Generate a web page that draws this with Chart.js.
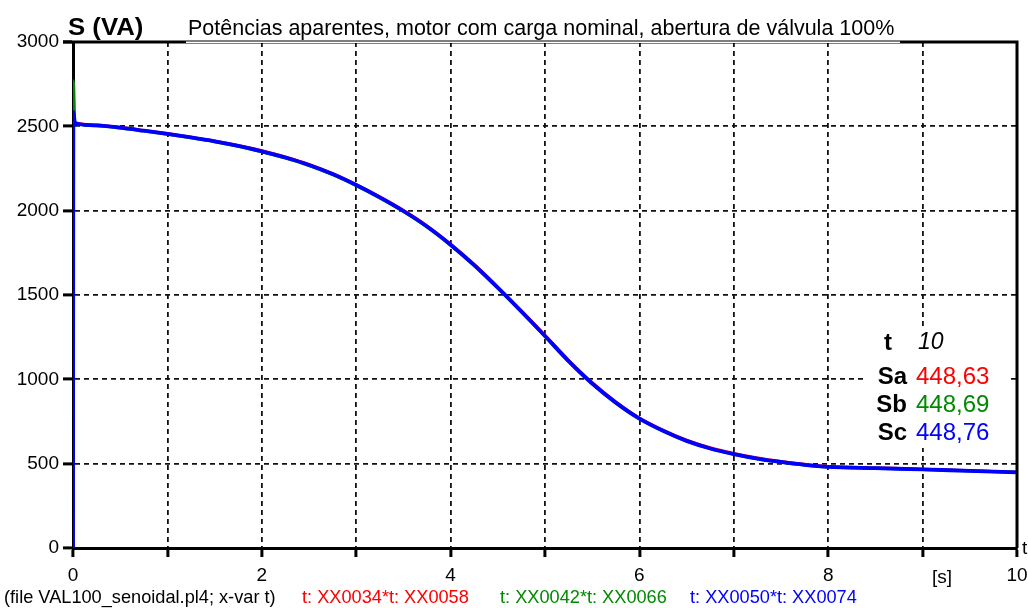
<!DOCTYPE html>
<html><head><meta charset="utf-8">
<script src="https://cdn.jsdelivr.net/npm/chart.js@4.4.1/dist/chart.umd.min.js"></script>
<style>html,body{margin:0;padding:0;background:#fff;overflow:hidden}#wrap{width:1028px;height:608px}</style>
</head><body><div id="wrap"><canvas id="c" width="1028" height="608"></canvas></div>
<script>
// ---- data ----
const timeS = [0, 0.004, 0.02, 0.25, 0.5, 0.75, 1, 1.25, 1.5, 1.75, 2, 2.25, 2.5, 2.75, 3, 3.25, 3.5, 3.75, 4, 4.25, 4.5, 4.75, 5, 5.25, 5.5, 5.75, 6, 6.25, 6.5, 6.75, 7, 7.25, 7.5, 7.75, 8, 8.5, 9, 9.5, 10];
const saVA = [0, 2530, 2522, 2508, 2494, 2476, 2457, 2436, 2413, 2386, 2355, 2318, 2274, 2220, 2155, 2082, 2002, 1910, 1802, 1681, 1547, 1406, 1261, 1113, 980, 866, 771, 699, 639, 594, 561, 534, 513, 496, 483, 475, 467, 458, 448.63];
const sbVA = [0, 2770, 2518, 2504, 2490, 2472, 2453, 2432, 2409, 2382, 2349, 2312, 2268, 2214, 2149, 2076, 1995, 1903, 1795, 1674, 1540, 1399, 1254, 1106, 973, 860, 766, 694, 634, 589, 556, 529, 509, 492, 480, 473, 466, 457, 448.69];
const scVA = [0, 2585, 2520, 2506, 2492, 2474, 2455, 2434, 2411, 2384, 2352, 2315, 2271, 2217, 2152, 2079, 1998, 1906, 1798, 1677, 1543, 1402, 1257, 1108, 975, 862, 767, 695, 635, 590, 557, 530, 510, 493, 481, 473, 466, 457, 448.76];
const yTickValues = [0, 500, 1000, 1500, 2000, 2500, 3000];
const xLabelValues = [0, 2, 4, 6, 8, 10];
const seriesNames = ['Sa', 'Sb', 'Sc'];
const seriesColors = ['#ff0000', '#008a00', '#0000ff'];
const readoutT = '10';
const readoutValues = ['448,63', '448,69', '448,76'];
const titleText = 'Potências aparentes, motor com carga nominal, abertura de válvula 100%';
const yAxisTitle = 'S (VA)';
const xUnit = '[s]';
const footerParts = [
  ['(file VAL100_senoidal.pl4; x-var t) ', '#000000'],
  ['t: XX0034*t: XX0058', '#ff0000'],
  ['t: XX0042*t: XX0066', '#008a00'],
  ['t: XX0050*t: XX0074', '#0000ff']
];

const FONT = '"Liberation Sans", Arial, sans-serif';
const mk = (arr) => timeS.map((t, i) => ({x: t, y: arr[i]}));

const decor = {
  id: 'decor',
  afterDraw(chart) {
    const ctx = chart.ctx, a = chart.chartArea;
    ctx.save();
    // frame top/right
    ctx.strokeStyle = '#000'; ctx.lineWidth = 3;
    ctx.beginPath();
    ctx.moveTo(a.left - 10, a.top); ctx.lineTo(a.right, a.top); ctx.lineTo(a.right, a.bottom);
    ctx.stroke();
    // title block
    ctx.fillStyle = '#fff';
    ctx.fillRect(186, a.top - 2, 714, 3);
    ctx.fillStyle = '#000';
    ctx.fillRect(186, a.top - 1.5, 714, 1);
    ctx.font = '21.5px ' + FONT;
    ctx.textBaseline = 'alphabetic'; ctx.textAlign = 'left';
    ctx.fillText(titleText, 188, 35);
    ctx.font = 'bold 23px ' + FONT;
    ctx.save();
    ctx.translate(68, 35); ctx.scale(1.12, 1);
    ctx.fillText(yAxisTitle, 0, 0);
    ctx.restore();
    // x unit and axis letter
    ctx.font = '19px ' + FONT;
    ctx.textBaseline = 'middle';
    ctx.fillText(xUnit, 932, 578);
    ctx.fillText('t', 1022, 549);
    // readout box
    const bx = 864, by = 330;
    ctx.fillStyle = '#fff';
    ctx.fillRect(bx, by, 144, 118);
    ctx.textBaseline = 'middle';
    ctx.textAlign = 'right';
    ctx.fillStyle = '#000';
    ctx.font = 'bold 24px ' + FONT;
    ctx.fillText('t', 892, 343);
    ctx.textAlign = 'left';
    ctx.font = 'italic 23px ' + FONT;
    ctx.fillText(readoutT, 918, 343);
    const rowsY = [377, 405, 433];
    seriesNames.forEach((n, i) => {
      ctx.textAlign = 'right';
      ctx.fillStyle = '#000';
      ctx.font = 'bold 24px ' + FONT;
      ctx.fillText(n, 907, rowsY[i]);
      ctx.textAlign = 'left';
      ctx.fillStyle = seriesColors[i];
      ctx.font = '24px ' + FONT;
      ctx.fillText(readoutValues[i], 916, rowsY[i]);
    });
    // footer
    ctx.font = '18.2px ' + FONT;
    ctx.textAlign = 'left';
    ctx.textBaseline = 'middle';
    const fx = [4, 302, 500, 690];
    footerParts.forEach((p, i) => { ctx.fillStyle = p[1]; ctx.fillText(p[0], fx[i], 598); });
    ctx.restore();
  }
};

new Chart(document.getElementById('c'), {
  type: 'scatter',
  data: {
    datasets: [
      {label: seriesNames[0], data: mk(saVA), borderColor: seriesColors[0], borderWidth: 3, order: 2},
      {label: seriesNames[1], data: mk(sbVA), borderColor: seriesColors[1], borderWidth: 3, order: 1},
      {label: seriesNames[2], data: mk(scVA), borderColor: seriesColors[2], borderWidth: 3.8, order: 0}
    ].map(d => Object.assign(d, {showLine: true, pointRadius: 0, fill: false, cubicInterpolationMode: 'monotone'}))
  },
  options: {
    responsive: false, animation: false, devicePixelRatio: 1,
    layout: {padding: {top: 42, right: 11, left: 0, bottom: 0}},
    plugins: {legend: {display: false}, tooltip: {enabled: false}},
    scales: {
      x: {
        type: 'linear', min: 0, max: 10,
        afterFit: (s) => { s.height = 60; s.paddingLeft = 0; s.paddingRight = 0; },
        ticks: {stepSize: 1, autoSkip: false, maxRotation: 0, padding: 7, color: '#000',
          font: {family: FONT, size: 19},
          callback: (v) => xLabelValues.includes(v) ? String(v) : ''},
        grid: {color: '#111', lineWidth: 1.8, tickColor: '#000', tickWidth: 3, tickLength: 9, drawTicks: true},
        border: {display: true, color: '#000', width: 3, dash: [5, 4]}
      },
      y: {
        min: 0, max: 3000,
        afterFit: (s) => { s.width = 73; s.paddingTop = 0; s.paddingBottom = 0; },
        afterBuildTicks: (s) => { s.ticks = yTickValues.map(v => ({value: v})); },
        ticks: {padding: 4, color: '#000', font: {family: FONT, size: 19}, callback: (v) => String(v)},
        grid: {color: '#111', lineWidth: 1.8, tickColor: '#000', tickWidth: 3, tickLength: 10, drawTicks: true},
        border: {display: true, color: '#000', width: 3, dash: [5, 4]}
      }
    }
  },
  plugins: [decor]
});
</script></body></html>
